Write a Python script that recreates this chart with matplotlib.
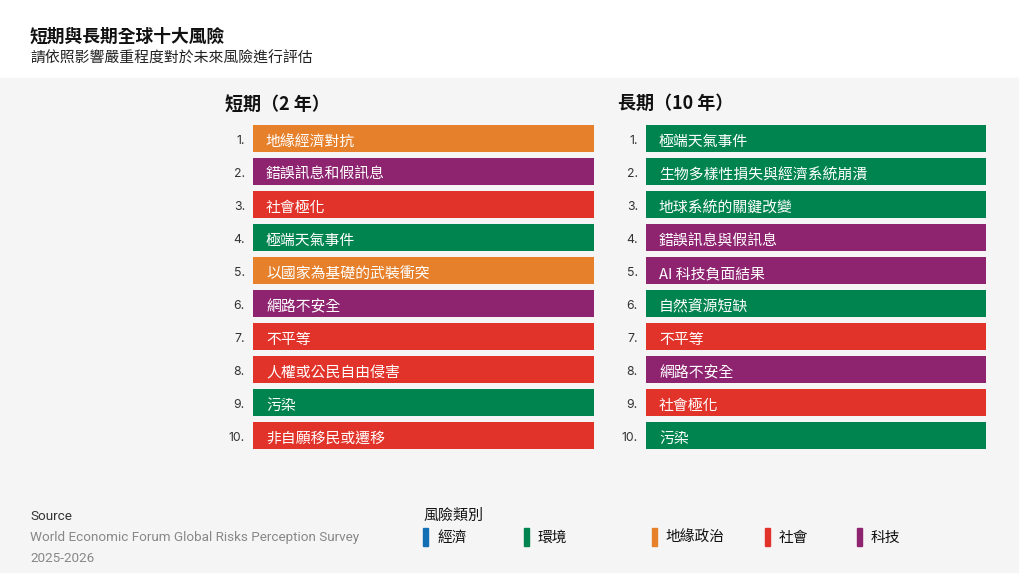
import matplotlib
matplotlib.use('Agg')
import matplotlib.pyplot as plt

plt.rcParams['font.family'] = ['Noto Sans CJK TC', 'DejaVu Sans']

####################### DATA #######################
title = '短期與長期全球十大風險'
subtitle = '請依照影響嚴重程度對於未來風險進行評估'

short_head = '短期（2 年）'
short_risks = ['地緣經濟對抗', '錯誤訊息和假訊息', '社會極化', '極端天氣事件',
               '以國家為基礎的武裝衝突', '網路不安全', '不平等', '人權或公民自由侵害',
               '污染', '非自願移民或遷移']
short_cats = ['geo', 'tech', 'soc', 'env', 'geo', 'tech', 'soc', 'soc', 'env', 'soc']

long_head = '長期（10 年）'
long_risks = ['極端天氣事件', '生物多樣性損失與經濟系統崩潰', '地球系統的關鍵改變',
              '錯誤訊息與假訊息', 'AI 科技負面結果', '自然資源短缺', '不平等',
              '網路不安全', '社會極化', '污染']
long_cats = ['env', 'env', 'env', 'tech', 'tech', 'env', 'soc', 'tech', 'soc', 'env']

cat_keys = ['eco', 'env', 'geo', 'soc', 'tech']
cat_names = ['經濟', '環境', '地緣政治', '社會', '科技']

source_lines = ['Source', 'World Economic Forum Global Risks Perception Survey', '2025-2026']
legend_title = '風險類別'
#####################################################################

colors = {'eco': '#1170B5', 'env': '#00844F', 'geo': '#E6802B',
          'soc': '#E2332A', 'tech': '#8E2370'}
W, H = 1020, 584
fig = plt.figure(figsize=(W / 100, H / 100), dpi=100)

# background axes in pixel coords
bg = fig.add_axes([0, 0, 1, 1])
bg.set_xlim(0, W)
bg.set_ylim(H, 0)
bg.axis('off')
bg.axhspan(78, 572, color='#f5f5f5', zorder=0)

bg.text(30, 37, title, fontsize=12.8, fontweight='bold', color='#111111', va='center')
bg.text(30, 59, subtitle, fontsize=10.7, color='#222222', va='center')


def px_axes(x0, y0, x1, y1):
    return fig.add_axes([x0 / W, 1 - y1 / H, (x1 - x0) / W, (y1 - y0) / H])


def draw_column(x0, x1, head, risks, cats):
    ax = px_axes(x0, 122, x1, 452)
    ranks = list(range(1, len(risks) + 1))
    ax.barh(ranks, [1] * len(risks), height=27 / 33, left=0,
            color=[colors[c] for c in cats], zorder=2)
    ax.set_xlim(0, 1)
    ax.set_ylim(10.5, 0.5)
    ax.axis('off')
    w = x1 - x0
    for r, name in zip(ranks, risks):
        ax.text(13 / w, r + 0.11, name, color='white', fontsize=10.7, va='center', ha='left')
        ax.text(-8 / w, r + 0.08, '%d.' % r, color='#333333', fontsize=8.8,
                va='center', ha='right', family=['Inter', 'DejaVu Sans'])
    ax.text(-28 / w, -0.05, head, fontsize=13, fontweight='bold', color='#111111',
            va='center', ha='left', clip_on=False)


draw_column(253, 594, short_head, short_risks, short_cats)
draw_column(646, 986, long_head, long_risks, long_cats)

# footer
foot_y = [516, 537, 558]
foot_col = ['#333333', '#888888', '#888888']
for y, s, c in zip(foot_y, source_lines, foot_col):
    bg.text(30, y + 1, s, fontsize=9.7, color=c, va='center', family=['Roboto', 'DejaVu Sans'])

bg.text(423, 516, legend_title, fontsize=10.8, color='#111111', va='center')
leg_x = [423, 524, 652, 765, 857]
for x, k, n in zip(leg_x, cat_keys, cat_names):
    bg.add_patch(plt.Rectangle((x, 528), 5, 18, color=colors[k], zorder=2))
    bg.text(x + 14, 538, n, fontsize=10.6, color='#111111', va='center')

plt.savefig('out.png', dpi=100)
